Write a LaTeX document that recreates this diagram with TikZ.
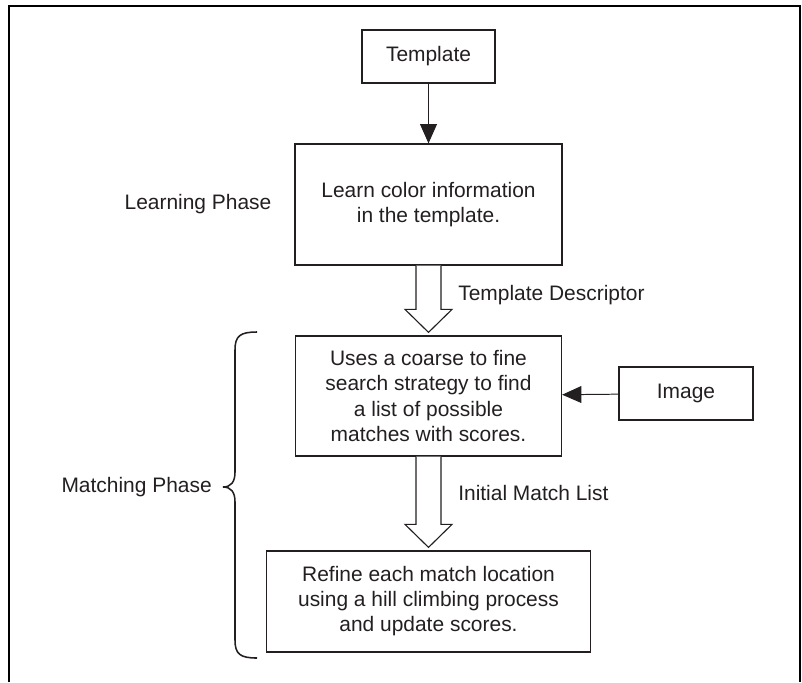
\documentclass[tikz,border=0pt]{standalone}
\usepackage{fontspec}
\setmainfont{Liberation Sans}
\usetikzlibrary{arrows.meta,calc}
\definecolor{ink}{RGB}{35,31,32}
\tikzset{
  >={Triangle[length=4.8mm,width=4.2mm]},
  box/.style={draw=ink,line width=0.9pt,inner sep=0pt,align=center,text=ink},
  tag/.style={text=ink,inner sep=0pt},
  link/.style={->,draw=ink,line width=0.7pt},
  hollow/.style={draw=ink,fill=white,line width=0.8pt,line join=miter},
  frame/.style={draw=black,line width=2.1pt},
}

\begin{document}
\begin{tikzpicture}[x=0.25mm,y=-0.25mm,font=\fontsize{14.9}{17.8}\selectfont]
    \useasboundingbox (0,0) rectangle (802,682);
    \draw[frame] (9,682) -- (9,6) -- (800,6) -- (800,682);
    % boxes
    \node[box,minimum width=33.25mm,minimum height=13.25mm] (template) at (428.5,56.5) {Template};
    \node[box,minimum width=66.75mm,minimum height=30.25mm] (learn) at (428.5,204.5)
      {Learn color information\\in the template.};
    \node[box,minimum width=66.5mm,minimum height=30mm] (search) at (428.5,396)
      {Uses a coarse to fine\\search strategy to find\\a list of possible\\matches with scores.};
    \node[box,minimum width=33.5mm,minimum height=13.25mm] (image) at (686,393.5) {Image};
    \node[box,minimum width=81mm,minimum height=25.25mm] (refine) at (428.5,601.5)
      {Refine each match location\\using a hill climbing process\\and update scores.};
    % labels
    \node[tag] (learnphase) at (198,204) {Learning Phase};
    \node[tag,anchor=east] (matchphase) at (212,487) {Matching Phase};
    \node[tag,anchor=west] (descriptor) at (458,295) {Template Descriptor};
    \node[tag,anchor=west] (matchlist) at (458,493) {Initial Match List};
    % connectors
    \draw[link] (template) -- (learn);
    \draw[link] (image) -- (search);
    \foreach \a/\b in {learn/search,search/refine}
      \draw[hollow] ($(\a.south)+(-12.5,0)$) -- ($(\b.north)+(-12.5,-26)$)
        -- ($(\b.north)+(-23.5,-26)$) -- ($(\b.north)+(0,-3)$)
        -- ($(\b.north)+(23.5,-26)$) -- ($(\b.north)+(12.5,-26)$)
        -- ($(\a.south)+(12.5,0)$);
    % brace
    \draw[ink,line width=1.1pt] (257,332) .. controls (240,332) and (235,336) .. (235,350)
      -- (235,472) .. controls (235,482) and (231,487) .. (223,487)
      .. controls (231,487) and (235,492) .. (235,502)
      -- (235,640) .. controls (235,654) and (240,658) .. (257,658);
\end{tikzpicture}
\end{document}
